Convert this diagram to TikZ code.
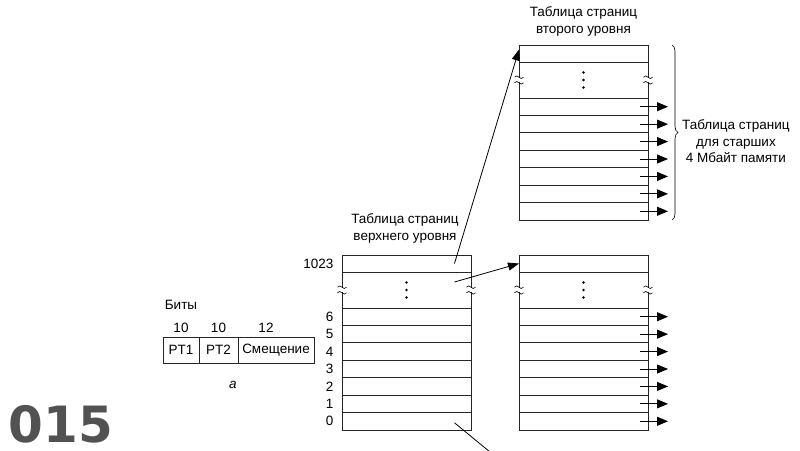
\documentclass[tikz,border=0pt]{standalone}
\usepackage{fontspec}
\setmainfont{Liberation Sans}
\newfontfamily\numfont{DejaVu Sans}
\usetikzlibrary{positioning, arrows.meta, decorations.pathreplacing}
\newcommand{\brkmark}[1]{%
  \fill[white] ([xshift=-1.6pt,yshift=-2.4pt]#1) rectangle ([xshift=1.6pt,yshift=2.4pt]#1);
  \foreach \dy in {-2.8,2.8}
    \draw[brk] ([xshift=-4.5pt,yshift=\dy pt]#1) sin ++(2.25,-1.3) cos ++(2.25,1.3) sin ++(2.25,1.3) cos ++(2.25,-1.3);
}

\begin{document}
\begin{tikzpicture}[x=1pt, y=-1pt,
  font=\fontsize{13.5}{16.5}\selectfont,
  cell/.style={draw=black!85, line width=0.8pt, minimum width=129pt, minimum height=17.43pt, inner sep=0pt, outer sep=0pt},
  firstrow/.style={cell, minimum height=17pt},
  gaprow/.style={cell, minimum height=36pt},
  fld/.style={draw=black!85, line width=0.8pt, minimum height=26pt, inner sep=0pt, outer sep=0pt},
  lbl/.style={align=center, inner sep=1pt},
  ptr/.style={-{Triangle[length=11pt, width=8pt]}, line width=0.8pt},
  outarr/.style={-{Triangle[length=11pt, width=9pt]}, line width=0.8pt},
  brk/.style={line width=0.6pt},
]
\useasboundingbox (0,0) rectangle (800,450);

% page tables
\foreach \tb/\tx/\ty in {top/342/255, hi/519/45, lo/519/255} {
  \node[firstrow, anchor=north west] (\tb-f) at (\tx,\ty) {};
  \node[gaprow, below=0pt of \tb-f] (\tb-g) {};
  \foreach \r [remember=\r as \p (initially g)] in {6,...,0}
    \node[cell, below=0pt of \tb-\p] (\tb-\r) {};
  \foreach \dy in {-7.5,0,7.5}
    \fill ([yshift=\dy pt]\tb-g.center) circle (1.4pt);
  \brkmark{\tb-g.west}
  \brkmark{\tb-g.east}
}

% entry numbers
\node[left=5pt of top-f.west] (n1023) {1023};
\foreach \r in {6,...,0}
  \node[left=5pt of top-\r.west] (n\r) {\r};

% entries of the second level
\foreach \tb in {hi,lo}
  \foreach \r in {6,...,0} {
    \coordinate (\tb-o\r) at ([xshift=20pt]\tb-\r.east);
    \draw[outarr] ([xshift=-8pt]\tb-\r.east) -- (\tb-o\r);
  }

% pointers
\coordinate (exit) at (490,452);
\draw[ptr] ([xshift=48pt]top-f.center) -- ([yshift=4pt]hi-f.west);
\draw[ptr] ([xshift=48pt,yshift=8pt]top-g.center) -- (lo-f.west);
\draw[line width=0.8pt] ([xshift=48pt,yshift=-1.5pt]top-0.center) -- (exit);

\draw[decorate, decoration={brace, amplitude=6pt}, line width=0.6pt]
  ([xshift=24pt]hi-f.north east) -- ([xshift=24pt]hi-0.south east);

% labels
\node[lbl, above=8pt of hi-f] (title2) {Таблица страниц\\второго уровня};
\node[lbl, above=11pt of top-f, xshift=-1.5pt] (title1) {Таблица страниц\\верхнего уровня};
\node[lbl, right=33pt of hi-4.east] (memlbl) {Таблица страниц\\для старших\\4 Мбайт памяти};

% address bits
\node[fld, minimum width=36pt] (pt1) at (181,350) {PT1};
\node[fld, minimum width=39pt, right=0pt of pt1] (pt2) {PT2};
\node[fld, minimum width=76pt, right=0pt of pt2] (offs) {Смещение};
\node[above=1pt of pt1] (b1) {10};
\node[above=1pt of pt2] (b2) {10};
\node[above=1pt of offs, xshift=-10pt] (b3) {12};
\node[above=6pt of b1] (bits) {Биты};
\node[below=15pt of pt2.south east, xshift=-5pt] (capa) {\itshape а};

\node[anchor=base west, inner sep=0pt, text=black!68, font=\numfont\bfseries\fontsize{50}{58}\selectfont] (num) at (8.5,442) {015};
\end{tikzpicture}
\end{document}
